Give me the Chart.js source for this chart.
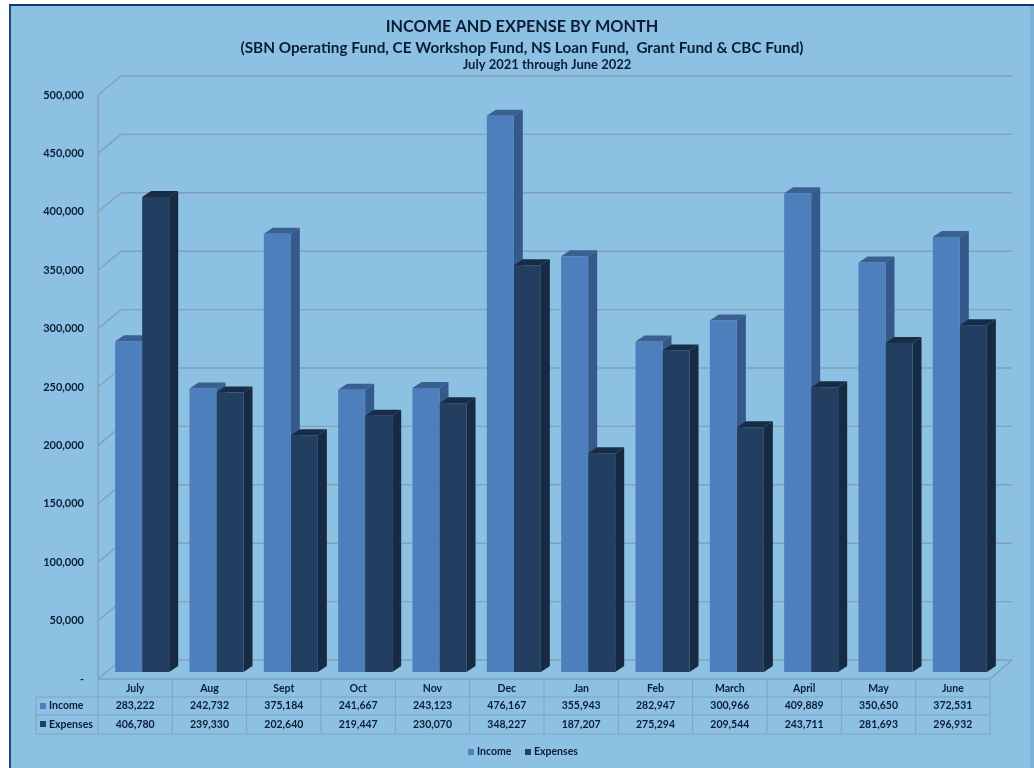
<!DOCTYPE html>
<html>
<head>
<meta charset="utf-8">
<title>Income and Expense by Month</title>
<script src="https://cdn.jsdelivr.net/npm/chart.js@4"></script>
<style>
  html, body { margin: 0; padding: 0; background: #fff; overflow: hidden; }
  canvas { display: block; }
</style>
</head>
<body>
<canvas id="chart" width="1034" height="768"></canvas>
<script>
var months = ["July", "Aug", "Sept", "Oct", "Nov", "Dec", "Jan", "Feb", "March", "April", "May", "June"];
var income = [283222, 242732, 375184, 241667, 243123, 476167, 355943, 282947, 300966, 409889, 350650, 372531];
var expenses = [406780, 239330, 202640, 219447, 230070, 348227, 187207, 275294, 209544, 243711, 281693, 296932];
var titleLines = [
  "INCOME AND EXPENSE BY MONTH",
  "(SBN Operating Fund, CE Workshop Fund, NS Loan Fund,  Grant Fund & CBC Fund)",
  "July 2021 through June 2022"
];

var FONT = 'Lato, "Open Sans", sans-serif';
var TEXT = '#0b1d36';
var GRID = '#83a0b6';
var TABLE_LINE = '#7fa3bd';
var colors = {
  income: { front: '#4c7fbc', top: '#39608f', side: '#35598a' },
  expenses: { front: '#223e60', top: '#182c47', side: '#172a44' }
};

function money(v) {
  return v.toString().replace(/\B(?=(\d{3})+$)/g, ',');
}

function text(ctx, str, x, y, size, align, color) {
  ctx.font = 'bold ' + size + 'px ' + FONT;
  ctx.textAlign = align;
  ctx.textBaseline = 'middle';
  ctx.fillStyle = color || TEXT;
  ctx.fillText(str, x, y);
}

function line(ctx, x1, y1, x2, y2) {
  ctx.beginPath();
  ctx.moveTo(x1, y1);
  ctx.lineTo(x2, y2);
  ctx.stroke();
}

function poly(ctx, pts, color) {
  ctx.fillStyle = color;
  ctx.beginPath();
  ctx.moveTo(pts[0][0], pts[0][1]);
  for (var i = 1; i < pts.length; i++) ctx.lineTo(pts[i][0], pts[i][1]);
  ctx.closePath();
  ctx.fill();
}

// panel, titles, walls, table, legend and the fake 3d faces of the bars
var sheet = {
  id: 'sheet',
  beforeDraw: function (chart) {
    var ctx = chart.ctx;
    ctx.save();
    ctx.fillStyle = '#8dc1e3';
    ctx.fillRect(9, 4, 1025, 764);
    ctx.fillStyle = '#7fb2d8';
    ctx.fillRect(1030, 6, 4, 762);
    ctx.fillStyle = '#1d4a78';
    ctx.fillRect(9, 4, 2, 764);
    ctx.fillStyle = '#123a68';
    ctx.fillRect(9, 4, 1025, 2);

    text(ctx, titleLines[0], 522, 27, 16.3, 'center');
    text(ctx, titleLines[1], 522, 48, 15.3, 'center');
    text(ctx, titleLines[2], 547, 65, 13, 'center');
    ctx.restore();
  },
  beforeDatasetsDraw: function (chart) {
    var ctx = chart.ctx, y = chart.scales.y;
    var left = 98, right = 990, backDx = 23, backDy = -12, frontDy = 7;
    ctx.save();
    ctx.strokeStyle = GRID;
    ctx.lineWidth = 1.4;

    // walls, one gridline per tick of the y scale
    y.ticks.forEach(function (t) {
      var py = y.getPixelForValue(t.value);
      line(ctx, left, py + frontDy, left + backDx, py + backDy);
      line(ctx, left + backDx, py + backDy, right + backDx - 1, py + backDy);
      text(ctx, t.value === 0 ? '-' : money(t.value), 84, py + frontDy, 11, 'right');
    });
    var y0 = y.getPixelForValue(0), yMax = y.getPixelForValue(y.max);
    line(ctx, left, yMax + frontDy, left, y0 + frontDy);
    line(ctx, left, y0 + frontDy, right, y0 + frontDy);
    line(ctx, right, y0 + frontDy, right + backDx - 1, y0 + backDy);

    // side and top of each bar, behind the fronts chart.js paints
    [colors.income, colors.expenses].forEach(function (c, ds) {
      chart.getDatasetMeta(ds).data.forEach(function (bar) {
        var l = bar.x - bar.width / 2, r = bar.x + bar.width / 2, dx = 9, dy = 6;
        poly(ctx, [[r, bar.y], [r + dx, bar.y - dy], [r + dx, bar.base - dy], [r, bar.base]], c.side);
        poly(ctx, [[l, bar.y], [l + dx, bar.y - dy], [r + dx, bar.y - dy], [r, bar.y]], c.top);
      });
    });
    ctx.restore();
  },
  afterDatasetsDraw: function (chart) {
    var ctx = chart.ctx, x = chart.scales.x;
    var rowTop = 679, rowA = 697, rowB = 715, rowEnd = 734, tableLeft = 36, left = 98, right = 990;
    ctx.save();
    ctx.strokeStyle = TABLE_LINE;
    ctx.lineWidth = 1;
    line(ctx, tableLeft, rowA, right, rowA);
    line(ctx, tableLeft, rowB, right, rowB);
    line(ctx, tableLeft, rowEnd, right, rowEnd);
    line(ctx, tableLeft, rowA, tableLeft, rowEnd);
    line(ctx, left, rowTop, left, rowEnd);
    var step = (right - left) / months.length;
    months.forEach(function (m, i) {
      var cx = x.getPixelForValue(i) - 7;
      line(ctx, left + (i + 1) * step, rowTop, left + (i + 1) * step, rowEnd);
      text(ctx, m, cx, 689, 10.5, 'center');
      text(ctx, money(income[i]), cx, 706, 10.5, 'center');
      text(ctx, money(expenses[i]), cx, 724.5, 10.5, 'center');
    });
    ctx.fillStyle = colors.income.front;
    ctx.fillRect(40, 703, 6, 6);
    text(ctx, 'Income', 49, 706, 10.5, 'left');
    ctx.fillStyle = colors.expenses.front;
    ctx.fillRect(40, 721, 6, 6);
    text(ctx, 'Expenses', 49, 724.5, 10.5, 'left');

    // legend
    ctx.fillStyle = colors.income.front;
    ctx.fillRect(468, 749, 6, 6);
    text(ctx, 'Income', 477, 752, 10.5, 'left');
    ctx.fillStyle = colors.expenses.front;
    ctx.fillRect(525, 749, 6, 6);
    text(ctx, 'Expenses', 534, 752, 10.5, 'left');
    ctx.restore();
  }
};

new Chart(document.getElementById('chart').getContext('2d'), {
  type: 'bar',
  data: {
    labels: months,
    datasets: [
      { label: 'Income', data: income, backgroundColor: colors.income.front },
      { label: 'Expenses', data: expenses, backgroundColor: colors.expenses.front }
    ]
  },
  options: {
    responsive: false,
    animation: false,
    layout: { padding: { left: 105, right: 37, top: 88, bottom: 96 } },
    datasets: { bar: { categoryPercentage: 0.727, barPercentage: 1 } },
    scales: {
      x: { display: false },
      y: { display: false, min: 0, max: 500000, ticks: { stepSize: 50000 } }
    },
    plugins: {
      legend: { display: false },
      title: { display: false },
      tooltip: { enabled: false }
    }
  },
  plugins: [sheet]
});
</script>
</body>
</html>
